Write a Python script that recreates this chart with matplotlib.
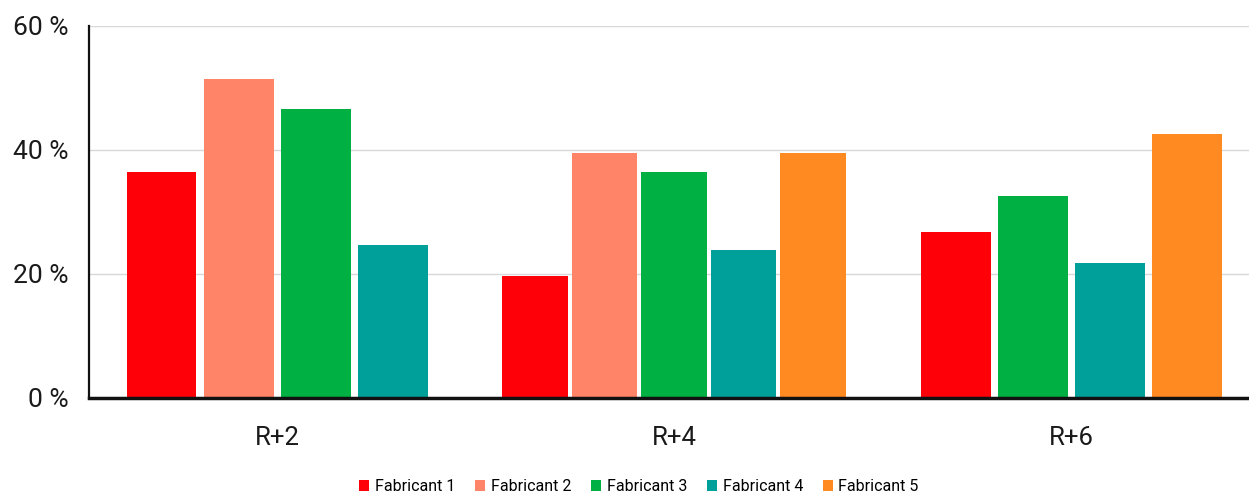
import matplotlib.pyplot as plt
from matplotlib.patches import Patch
from matplotlib.ticker import FuncFormatter

plt.rcParams['font.family'] = ['Roboto', 'DejaVu Sans']

groups = ['R+2', 'R+4', 'R+6']
makers = ['Fabricant 1', 'Fabricant 2', 'Fabricant 3', 'Fabricant 4', 'Fabricant 5']
colors = ['#fe0008', '#ff8468', '#00b043', '#00a09a', '#ff8a22']

# share (%) per maker, None where a maker has no value for that horizon
fab1 = [36.5, 19.6, 26.7]
fab2 = [51.5, 39.5, None]
fab3 = [46.6, 36.5, 32.5]
fab4 = [24.7, 23.8, 21.7]
fab5 = [None, 39.5, 42.5]
series = [fab1, fab2, fab3, fab4, fab5]

yticks = [0, 20, 40, 60]

bar_w = 0.176
step = 0.194
max_span = 0.865  # widest a group of bars may get before it is squeezed

fig = plt.figure(figsize=(12.49, 4.95), dpi=100)
ax = fig.add_axes([0.0713, 0.196, 0.9287, 0.7515])

for g in range(len(groups)):
    present = [i for i, s in enumerate(series) if s[g] is not None]
    n = len(present)
    st, w = step, bar_w
    if (n - 1) * step + bar_w > max_span:
        st = 0.175
        w = max_span - (n - 1) * st
    for k, i in enumerate(present):
        x = g + (k - (n - 1) / 2) * st
        ax.bar(x, series[i][g], width=w, color=colors[i], linewidth=0, zorder=2)

ax.set_xlim(-0.4736, 2.448)
ax.set_ylim(0, 60)
ax.set_xticks(range(len(groups)))
ax.set_xticklabels(groups, fontsize=18.5, color='#1a1a1a')
ax.set_yticks(yticks)
ax.yaxis.set_major_formatter(FuncFormatter(lambda v, _: f'{v:.0f} %'))
ax.tick_params(axis='y', length=0, pad=15, labelsize=19, labelcolor='#1a1a1a')
ax.tick_params(axis='x', length=0, pad=20)

ax.grid(axis='y', color='#d8d8d8', linewidth=1, zorder=0)
ax.set_axisbelow(True)
for side in ('top', 'right'):
    ax.spines[side].set_visible(False)
ax.spines['left'].set_linewidth(1.6)
ax.spines['left'].set_color('#111111')
ax.spines['bottom'].set_linewidth(2.5)
ax.spines['bottom'].set_color('#111111')
ax.spines['bottom'].set_zorder(3)

handles = [Patch(facecolor=c, edgecolor='none') for c in colors]
fig.legend(handles, makers, loc='center', bbox_to_anchor=(0.5117, 0.017),
           ncol=5, frameon=False, fontsize=11.5, handlelength=0.62, handleheight=0.62,
           handletextpad=0.35, columnspacing=1.25, borderpad=0)

fig.savefig('out.png', dpi=100, facecolor='white')
